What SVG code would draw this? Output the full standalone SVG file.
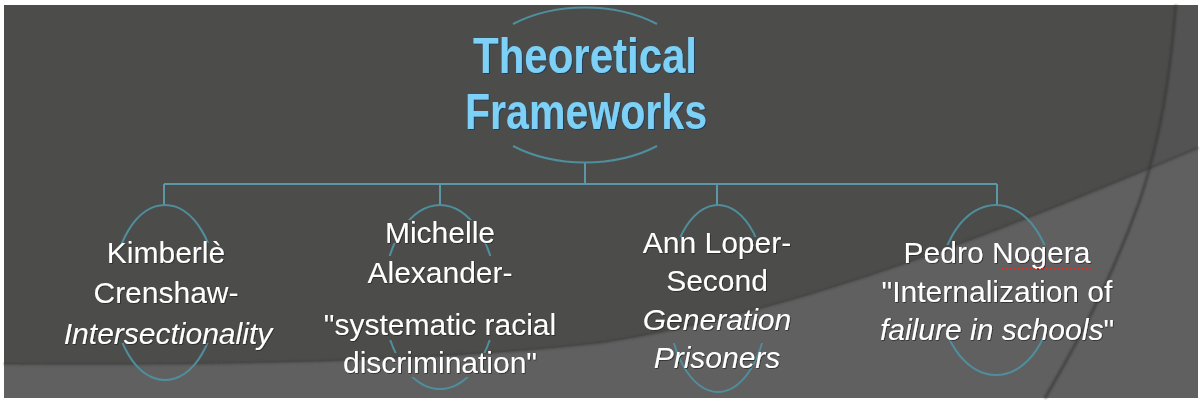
<svg xmlns="http://www.w3.org/2000/svg" width="1202" height="409" viewBox="0 0 1202 409">
<style>
.lbl{font-family:"Liberation Sans",Arial,sans-serif;font-size:30px;fill:#ffffff;text-anchor:middle;filter:url(#ts)}
.it{font-style:italic}
.ttl{font-family:"Liberation Sans",Arial,sans-serif;font-weight:bold;font-size:50px;fill:#7dd0f6;text-anchor:middle;filter:url(#tt)}
.shape{fill:none;stroke:#4f8e9c;stroke-width:2}
.conn{fill:none;stroke:#5a98a8;stroke-width:2}
</style>
<defs>
<filter id="ts" x="-10%" y="-20%" width="120%" height="140%"><feDropShadow dx="0.8" dy="0.8" stdDeviation="0.6" flood-color="#222" flood-opacity="0.8"/></filter>
<filter id="tt" x="-10%" y="-20%" width="120%" height="140%"><feDropShadow dx="1" dy="1" stdDeviation="0.6" flood-color="#1d3b5c" flood-opacity="0.9"/></filter>
<filter id="blur"><feGaussianBlur stdDeviation="1.2"/></filter>
<mask id="m1" maskUnits="userSpaceOnUse" x="0" y="0" width="1202" height="409"><rect width="1202" height="409" fill="#fff"/><rect x="90" y="243" width="160" height="100" fill="#000"/></mask>
<mask id="m2" maskUnits="userSpaceOnUse" x="0" y="0" width="1202" height="409"><rect width="1202" height="409" fill="#fff"/><rect x="370" y="220" width="140" height="23" fill="#000"/><rect x="370" y="256" width="140" height="84" fill="#000"/><rect x="370" y="353" width="140" height="24" fill="#000"/></mask>
<mask id="m3" maskUnits="userSpaceOnUse" x="0" y="0" width="1202" height="409"><rect width="1202" height="409" fill="#fff"/><rect x="650" y="237" width="140" height="106" fill="#000"/></mask>
<mask id="m4" maskUnits="userSpaceOnUse" x="0" y="0" width="1202" height="409"><rect width="1202" height="409" fill="#fff"/><rect x="920" y="245" width="160" height="92" fill="#000"/></mask>
</defs>
<rect x="0" y="0" width="1202" height="409" fill="#ffffff"/>
<g id="background">
<rect x="4" y="5" width="1194" height="393" fill="#4c4c4a"/>
<path d="M1176,5 C1170,80 1160,140 1140,200 C1115,270 1085,330 1045,398 L1198,398 L1198,5 Z" fill="#535353"/>
<path d="M4,364 C250,366 450,360 600,343 C800,312 1000,232 1198,148 L1198,398 L4,398 Z" fill="#606060"/>
<path d="M4,364 C250,366 450,360 600,343 C800,312 1000,232 1198,148" fill="none" stroke="#3f3f3f" stroke-width="2" filter="url(#blur)" opacity="0.7"/>
<path d="M1176,5 C1170,80 1160,140 1140,200 C1115,270 1085,330 1045,398" fill="none" stroke="#383838" stroke-width="2.5" filter="url(#blur)" opacity="0.8"/>
</g>
<g id="connectors">
<path class="conn" d="M585,163 V184 M164,184 H997 M164,184 V205 M440,184 V205 M717,184 V205 M997,184 V205"/>
</g>
<g id="node-title">
<path class="shape" d="M513,24 A117,78 0 0 1 657,24 M657,146 A117,78 0 0 1 513,146"/>
<text class="ttl" x="585" y="73" textLength="224" lengthAdjust="spacingAndGlyphs">Theoretical</text>
<text class="ttl" x="586" y="129" textLength="242" lengthAdjust="spacingAndGlyphs">Frameworks</text>
</g>
<g id="node-crenshaw">
<ellipse class="shape" cx="165" cy="292.5" rx="52" ry="87.5" mask="url(#m1)"/>
<text class="lbl" x="166" y="263">Kimberlè</text>
<text class="lbl" x="166" y="303">Crenshaw-</text>
<text class="lbl it" x="168" y="344">Intersectionality</text>
</g>
<g id="node-alexander">
<ellipse class="shape" cx="440" cy="297" rx="56" ry="92" mask="url(#m2)"/>
<text class="lbl" x="440" y="243">Michelle</text>
<text class="lbl" x="440" y="283">Alexander-</text>
<text class="lbl" x="440" y="335">"systematic racial</text>
<text class="lbl" x="440" y="373">discrimination"</text>
</g>
<g id="node-loper">
<ellipse class="shape" cx="718" cy="298.5" rx="50" ry="93.5" mask="url(#m3)"/>
<text class="lbl" x="717" y="253">Ann Loper-</text>
<text class="lbl" x="717" y="291">Second</text>
<text class="lbl it" x="717" y="330">Generation</text>
<text class="lbl it" x="717" y="368">Prisoners</text>
</g>
<g id="node-noguera">
<ellipse class="shape" cx="996" cy="290" rx="57" ry="85" mask="url(#m4)"/>
<text class="lbl" x="997" y="263">Pedro Nogera</text>
<path d="M1000,270 l2,-2 l2,2 l2,-2 l2,2 l2,-2 l2,2 l2,-2 l2,2 l2,-2 l2,2 l2,-2 l2,2 l2,-2 l2,2 l2,-2 l2,2 l2,-2 l2,2 l2,-2 l2,2 l2,-2 l2,2 l2,-2 l2,2 l2,-2 l2,2 l2,-2 l2,2 l2,-2 l2,2 l2,-2 l2,2 l2,-2 l2,2 l2,-2 l2,2 l2,-2 l2,2 l2,-2 l2,2 l2,-2 l2,2 l2,-2 l2,2 l2,-2 l2,2" fill="none" stroke="#d9302c" stroke-width="1"/>
<text class="lbl" x="997" y="302">"Internalization of</text>
<text class="lbl" x="997" y="340"><tspan class="it">failure in schools</tspan>"</text>
</g>
</svg>
